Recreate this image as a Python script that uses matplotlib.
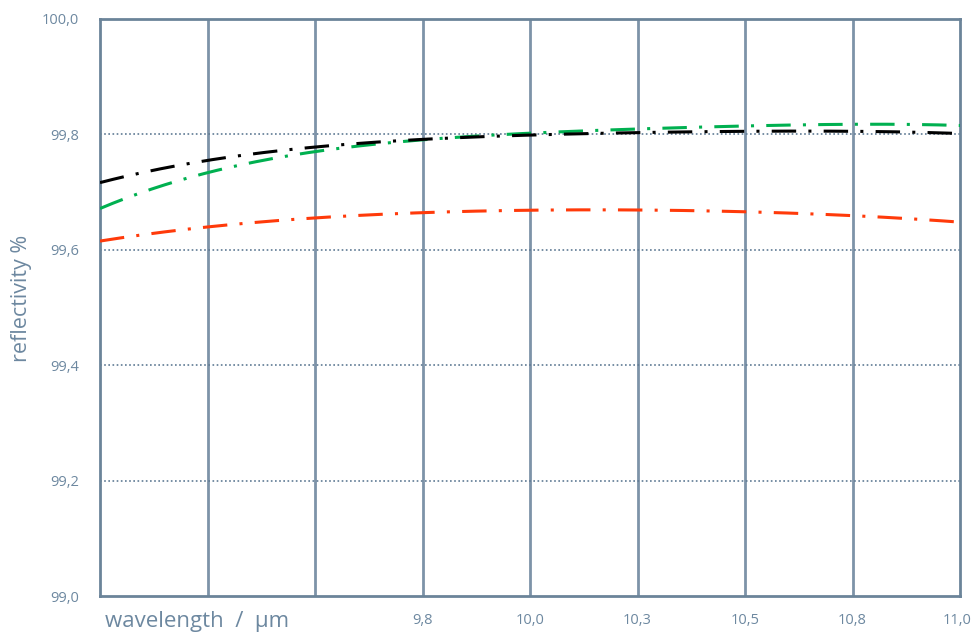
import matplotlib
matplotlib.use("Agg")
import matplotlib.pyplot as plt
import matplotlib.transforms as mtransforms
import numpy as np

wavelength = [9.0, 9.25, 9.5, 9.75, 10.0, 10.25, 10.5, 10.75, 11.0]
black = [99.716, 99.756, 99.778, 99.790, 99.799, 99.804, 99.806, 99.804, 99.802]
green = [99.671, 99.735, 99.770, 99.789, 99.802, 99.811, 99.815, 99.816, 99.816]
red = [99.615, 99.640, 99.655, 99.664, 99.669, 99.669, 99.666, 99.659, 99.648]
xtick_pos = [9.75, 10.0, 10.25, 10.5, 10.75, 11.0]
xtick_labels = ["9,8", "10,0", "10,3", "10,5", "10,8", "11,0"]
ytick_pos = [99.0, 99.2, 99.4, 99.6, 99.8, 100.0]
ytick_labels = ["99,0", "99,2", "99,4", "99,6", "99,8", "100,0"]

plt.rcParams['font.family'] = ['Open Sans', 'DejaVu Sans']

txt = "#6d88a0"
frame = "#6b8499"

fig = plt.figure(figsize=(9.74, 6.32), dpi=100)
ax = fig.add_axes([100/974, 36/632, 860/974, 577/632])

for xv in [9.25, 9.5, 9.75, 10.0, 10.25, 10.5, 10.75]:
    ax.axvline(xv, color="#7d93a8", lw=2, zorder=1)
for yv in [99.2, 99.4, 99.6, 99.8]:
    ax.axhline(yv, color="#5f7a94", lw=1.2, ls=(0, (1, 1.5)), zorder=1)

xs = np.linspace(9.0, 11.0, 200)

for data, col in [(red, "#ff3a0a"), (green, "#00b050"), (black, "#000000")]:
    p = np.polyfit(wavelength, data, 4)
    ax.plot(xs, np.polyval(p, xs), color=col, lw=2.2, ls=(0, (8, 4, 1, 4)), zorder=3)

ax.set_xlim(9.0, 11.0)
ax.set_ylim(99.0, 100.0)
ax.set_xticks(xtick_pos)
ax.set_xticklabels(xtick_labels)
ax.set_yticks(ytick_pos)
ax.set_yticklabels(ytick_labels)
ax.tick_params(length=0, labelsize=10.5, colors=txt)
ax.tick_params(axis="y", pad=15)
ax.tick_params(axis="x", pad=12)
last = ax.get_xticklabels()[-1]
last.set_transform(last.get_transform() + mtransforms.ScaledTranslation(-3/100, 0, fig.dpi_scale_trans))
for s in ax.spines.values():
    s.set_color(frame)
    s.set_linewidth(2)

fig.text(105/974, 1 - 621/632, "wavelength  /  µm", color=txt, fontsize=16, va="center", ha="left")
fig.text(22/974, 1 - 298/632, "reflectivity %", color=txt, fontsize=15.5, va="center", ha="center", rotation=90)

fig.savefig("out.png", dpi=100)
